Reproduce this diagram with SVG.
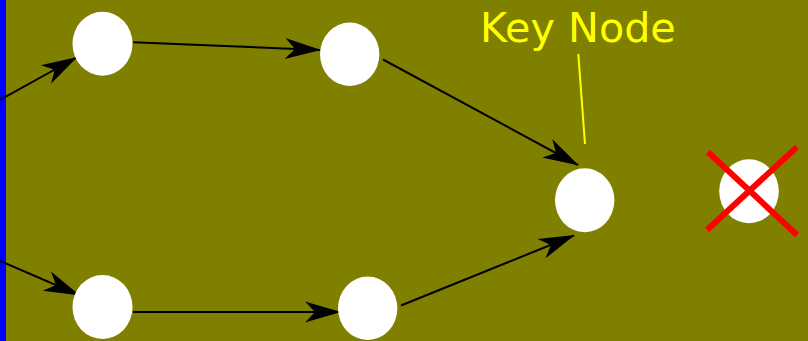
<svg xmlns="http://www.w3.org/2000/svg" width="808" height="341" viewBox="0 0 808 341">
  <style>
    .node { fill: #ffffff; }
    .edge { stroke: #000000; stroke-width: 2; fill: none; marker-end: url(#stealth); }
    .label { font-family: "DejaVu Sans", "Liberation Sans", sans-serif; font-size: 41.3px; fill: #ffff00; }
    .cross { stroke: #ff0000; stroke-width: 6; }
  </style>
  <defs>
    <marker id="stealth" markerUnits="userSpaceOnUse" markerWidth="1" markerHeight="1" refX="0" refY="0" orient="auto" overflow="visible">
      <path d="M1,0 L-35,-10.5 L-25,0 L-35,10.5 Z" fill="#000000"/>
    </marker>
  </defs>
  <rect x="0" y="0" width="808" height="341" fill="#808000"/>
  <rect x="0" y="0" width="6" height="341" fill="#0000ff"/>

  <g id="connectors">
    <line class="edge" x1="0" y1="100" x2="76.5" y2="57.5"/>
    <line class="edge" x1="0" y1="261" x2="79" y2="295"/>
    <line class="edge" x1="133" y1="42.3" x2="320" y2="50"/>
    <line class="edge" x1="133" y1="312" x2="340" y2="312"/>
    <line class="edge" x1="383" y1="59.5" x2="578" y2="165"/>
    <line class="edge" x1="401" y1="305.5" x2="574" y2="235.5"/>
    <line x1="578.3" y1="54" x2="585" y2="144" stroke="#ffff00" stroke-width="2"/>
  </g>

  <g id="n1"><ellipse class="node" cx="102.5" cy="43.7" rx="30" ry="32"/></g>
  <g id="n2"><ellipse class="node" cx="102.5" cy="307" rx="30" ry="32"/></g>
  <g id="n3"><ellipse class="node" cx="349.7" cy="54.3" rx="29.7" ry="31.7"/></g>
  <g id="n4"><ellipse class="node" cx="367.7" cy="308.3" rx="29.7" ry="31.7"/></g>
  <g id="key"><ellipse class="node" cx="584.7" cy="200.3" rx="29.7" ry="32"/></g>
  <g id="removed">
    <ellipse class="node" cx="749" cy="191.3" rx="29.8" ry="32"/>
    <line class="cross" x1="708" y1="152" x2="797" y2="235"/>
    <line class="cross" x1="797" y1="147" x2="707" y2="230"/>
  </g>
  <g id="key-label">
    <text class="label" x="480" y="42">Key Node</text>
  </g>
</svg>
